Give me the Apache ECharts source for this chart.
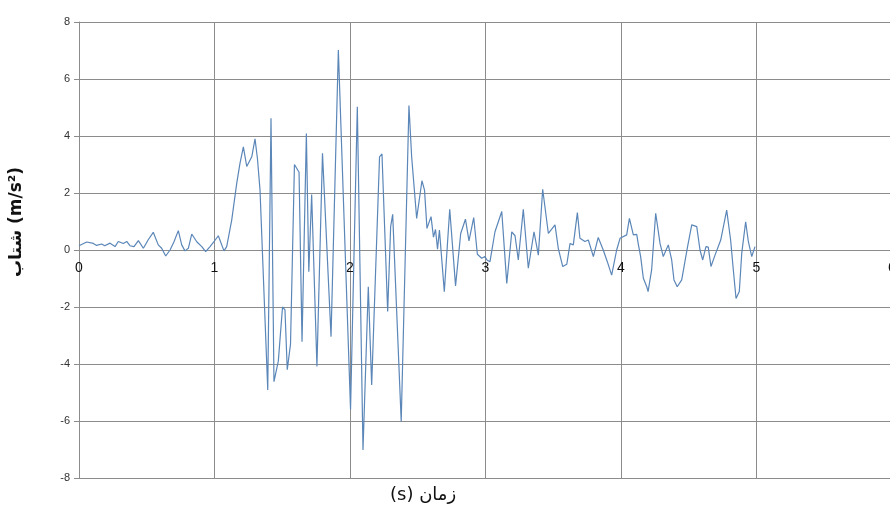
<!DOCTYPE html>
<html>
<head>
<meta charset="utf-8">
<script src="https://cdn.jsdelivr.net/npm/echarts@6/dist/echarts.min.js"></script>
<style>
  html, body { margin: 0; padding: 0; background: #ffffff; }
  #chart { width: 890px; height: 513px; }
</style>
</head>
<body>
<div id="chart"></div>
<script>
// Ground acceleration record: time (s) and acceleration (m/s^2)
const time = [
  0.000, 0.057, 0.106, 0.130, 0.167, 0.190, 0.229, 0.266, 0.290, 0.327,
  0.352, 0.376, 0.406, 0.438, 0.475, 0.511, 0.548, 0.585, 0.610, 0.640,
  0.672, 0.701, 0.733, 0.758, 0.782, 0.807, 0.832, 0.869, 0.906, 0.935,
  0.967, 0.996, 1.028, 1.070, 1.090, 1.127, 1.164, 1.188, 1.213, 1.238,
  1.275, 1.299, 1.317, 1.336, 1.393, 1.417, 1.439, 1.471, 1.502, 1.520,
  1.537, 1.561, 1.590, 1.624, 1.646, 1.678, 1.696, 1.717, 1.756, 1.797,
  1.860, 1.914, 2.004, 2.054, 2.096, 2.135, 2.160, 2.218, 2.236, 2.278,
  2.300, 2.315, 2.378, 2.435, 2.455, 2.492, 2.531, 2.550, 2.568, 2.598,
  2.616, 2.631, 2.646, 2.660, 2.696, 2.736, 2.779, 2.817, 2.852, 2.878,
  2.913, 2.940, 2.972, 2.996, 3.011, 3.033, 3.070, 3.120, 3.157, 3.194,
  3.218, 3.242, 3.279, 3.316, 3.358, 3.390, 3.422, 3.464, 3.513, 3.537,
  3.570, 3.600, 3.624, 3.648, 3.678, 3.697, 3.734, 3.759, 3.796, 3.832,
  3.869, 3.899, 3.931, 3.968, 3.993, 4.042, 4.062, 4.091, 4.116, 4.128,
  4.145, 4.165, 4.190, 4.200, 4.226, 4.256, 4.288, 4.312, 4.349, 4.374,
  4.391, 4.415, 4.448, 4.489, 4.522, 4.559, 4.583, 4.603, 4.627, 4.644,
  4.664, 4.694, 4.736, 4.780, 4.809, 4.829, 4.849, 4.873, 4.891, 4.920,
  4.940, 4.965, 4.989
];
const accel = [
  0.15, 0.28, 0.23, 0.16, 0.21, 0.15, 0.24, 0.12, 0.30, 0.23,
  0.30, 0.15, 0.12, 0.33, 0.06, 0.36, 0.62, 0.18, 0.06, -0.21,
  0.00, 0.29, 0.68, 0.18, -0.03, 0.06, 0.56, 0.29, 0.12, -0.06,
  0.12, 0.29, 0.50, -0.03, 0.12, 1.05, 2.34, 3.04, 3.62, 2.93,
  3.27, 3.90, 3.20, 2.10, -4.91, 4.62, -4.62, -3.90, -2.00, -2.10,
  -4.20, -3.30, 3.00, 2.73, -3.22, 4.09, -0.76, 1.95, -4.09, 3.39,
  -3.04, 7.02, -5.60, 5.03, -7.02, -1.29, -4.74, 3.27, 3.37, -2.16,
  0.82, 1.25, -6.02, 5.07, 3.27, 1.11, 2.43, 2.10, 0.76, 1.17,
  0.45, 0.72, 0.03, 0.70, -1.46, 1.43, -1.26, 0.58, 1.08, 0.32,
  1.14, -0.15, -0.29, -0.23, -0.35, -0.41, 0.64, 1.35, -1.17, 0.64,
  0.50, -0.35, 1.43, -0.64, 0.64, -0.18, 2.13, 0.58, 0.88, 0.06,
  -0.58, -0.50, 0.23, 0.18, 1.31, 0.41, 0.30, 0.35, -0.23, 0.44,
  0.00, -0.41, -0.88, 0.00, 0.41, 0.53, 1.11, 0.53, 0.55, 0.20,
  -0.23, -0.99, -1.29, -1.46, -0.70, 1.29, 0.23, -0.23, 0.18, -0.35,
  -1.05, -1.29, -1.05, 0.06, 0.88, 0.82, 0.00, -0.35, 0.12, 0.10,
  -0.58, -0.18, 0.35, 1.40, 0.35, -0.70, -1.70, -1.46, -0.12, 0.99,
  0.29, -0.23, 0.12
];
const xTicks = ['0', '1', '2', '3', '4', '5', '6'];
const yTicks = ['-8', '-6', '-4', '-2', '0', '2', '4', '6', '8'];

const points = time.map((t, i) => [t, accel[i]]);

const chart = echarts.init(document.getElementById('chart'), null, { renderer: 'canvas' });
const gridColor = '#8c8c8c';
const plotTop = 22, plotHeight = 456;

chart.setOption({
  backgroundColor: '#ffffff',
  animation: false,
  grid: {
    left: 79, top: plotTop, width: 813, height: plotHeight,
    containLabel: false, outerBoundsMode: 'none'
  },
  xAxis: [
    {
      // gridlines only
      type: 'value',
      min: 0, max: 6, interval: 1,
      axisLine: { show: false },
      axisTick: { show: false },
      axisLabel: { show: false },
      splitLine: { show: true, lineStyle: { color: gridColor, width: 1 } }
    },
    {
      // axis line and labels drawn through y = 0
      type: 'value',
      position: 'bottom',
      offset: -plotHeight / 2,
      min: 0, max: 6, interval: 1,
      axisLine: { show: true, onZero: false, lineStyle: { color: gridColor, width: 1 } },
      axisTick: { show: false },
      axisLabel: {
        color: '#111', fontSize: 14, fontFamily: 'Liberation Sans, Arial, sans-serif',
        margin: 11, showMaxLabel: true, showMinLabel: true,
        formatter: v => xTicks[Math.round(v)]
      },
      splitLine: { show: false }
    }
  ],
  yAxis: {
    type: 'value',
    min: -8, max: 8, interval: 2,
    axisLine: { show: true, onZero: false, lineStyle: { color: gridColor, width: 1 } },
    axisTick: { show: true, length: 5, lineStyle: { color: gridColor } },
    axisLabel: {
      color: '#333', fontSize: 11, fontFamily: 'Liberation Sans, Arial, sans-serif',
      margin: 9,
      formatter: v => yTicks[Math.round((v + 8) / 2)]
    },
    splitLine: { show: true, lineStyle: { color: gridColor, width: 1 } }
  },
  graphic: [
    {
      type: 'text',
      left: 390,
      top: 486,
      style: {
        text: '(s) زمان',
        font: '18px "DejaVu Sans", "Noto Sans", sans-serif',
        fill: '#111'
      }
    },
    {
      type: 'text',
      x: 8,
      y: 277,
      rotation: Math.PI / 2,
      style: {
        text: 'شتاب (m/s²)',
        font: 'bold 17px "DejaVu Sans", "Noto Sans", sans-serif',
        fill: '#111'
      }
    }
  ],
  series: [{
    type: 'line',
    xAxisIndex: 0,
    data: points,
    showSymbol: false,
    smooth: false,
    lineStyle: { color: '#5b86b8', width: 1.2 },
    z: 5
  }]
});
</script>
</body>
</html>
